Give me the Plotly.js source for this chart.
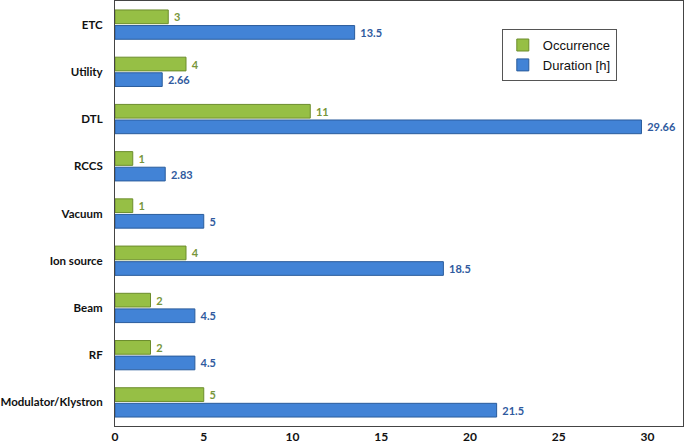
<!DOCTYPE html>
<html><head><meta charset="utf-8">
<script src="https://cdn.plot.ly/plotly-3.0.1.min.js"></script>
<style>html,body{margin:0;padding:0;background:#fff}#chart{width:685px;height:448px}</style>
</head><body><div id="chart"></div>
<script>
const categories = ["Modulator/Klystron","RF","Beam","Ion source","Vacuum","RCCS","DTL","Utility","ETC"];
const occurrence = [5,2,2,4,1,1,11,4,3];
const duration = [21.5,4.5,4.5,18.5,5,2.83,29.66,2.66,13.5];
const durationLabels = ["21.5","4.5","4.5","18.5","5","2.83","29.66","2.66","13.5"];
const occurrenceLabels = occurrence.map(String);
const xTicks = [0,5,10,15,20,25,30];

const pad = s => '\u00a0' + s;
const traces = [
  {type:'bar', orientation:'h', name:'Duration [h]', y:categories, x:duration,
   text:durationLabels.map(pad), textposition:'outside', cliponaxis:false,
   textfont:{family:'Lato, Open Sans, sans-serif', size:11, color:'#2f5a9e', weight:'bold'},
   marker:{color:'#4283d6', line:{color:'#2a5c9c', width:1}}},
  {type:'bar', orientation:'h', name:'Occurrence', y:categories, x:occurrence,
   text:occurrenceLabels.map(pad), textposition:'outside', cliponaxis:false,
   textfont:{family:'Lato, Open Sans, sans-serif', size:11, color:'#77963a', weight:'bold'},
   marker:{color:'#96bf45', line:{color:'#6c8d2c', width:1}}}
];

const layout = {
  width:685, height:448,
  margin:{l:115, r:2, t:1, b:22},
  barmode:'group', bargap:0.34, bargroupgap:0.12,
  paper_bgcolor:'#fff', plot_bgcolor:'#fff',
  showlegend:true,
  legend:{x:0.681, y:0.934, xanchor:'left', yanchor:'top', traceorder:'reversed',
    bordercolor:'#555', borderwidth:1, bgcolor:'#fff',
    font:{family:'Liberation Sans, Arial, sans-serif', size:13, color:'#111'},
    tracegroupgap:8, itemwidth:30, entrywidth:97},
  xaxis:{range:[0,32], tickvals:xTicks, ticktext:xTicks.map(String),
    showgrid:false, zeroline:false, showline:true, linecolor:'#444', linewidth:1, mirror:true,
    ticks:'', tickfont:{family:'Lato, Open Sans, sans-serif', size:12, color:'#111', weight:'bold'}},
  yaxis:{range:[-0.5,8.5], showgrid:false, zeroline:false, showline:true, linecolor:'#444', linewidth:1, mirror:true,
    ticks:'outside', ticklen:9, tickcolor:'rgba(0,0,0,0)',
    tickfont:{family:'Lato, Open Sans, sans-serif', size:11.5, color:'#111', weight:'bold'}}
};
Plotly.newPlot('chart', traces, layout, {displayModeBar:false, staticPlot:true});
</script></body></html>
